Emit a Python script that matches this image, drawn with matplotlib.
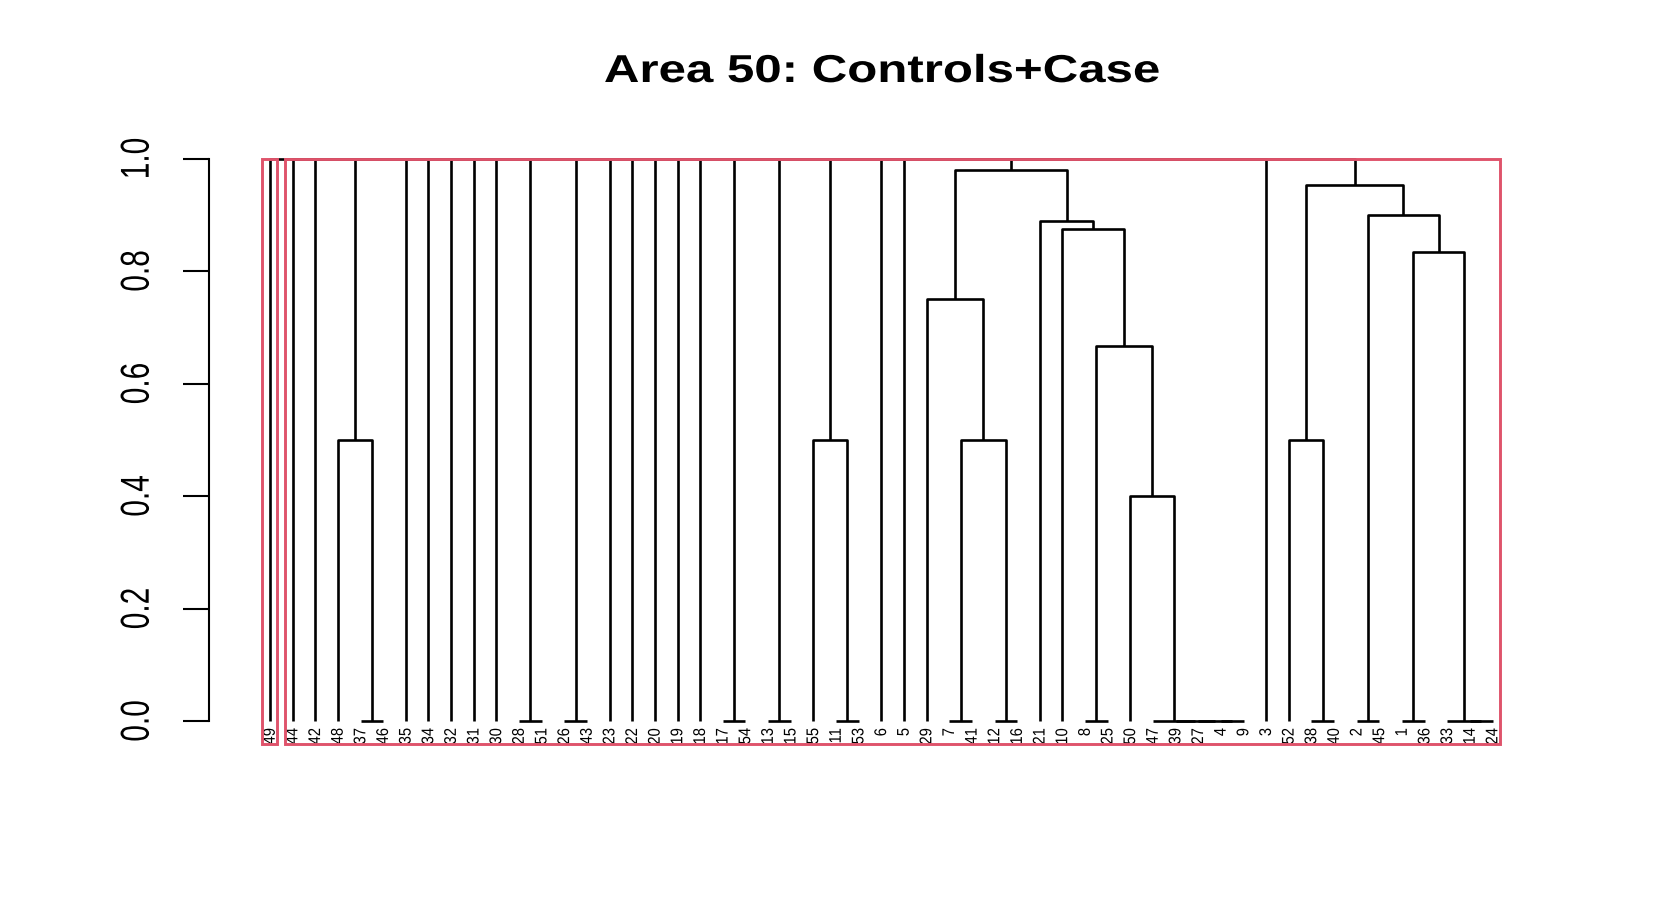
import matplotlib
matplotlib.use("Agg")
import matplotlib.pyplot as plt
from matplotlib.patches import Rectangle
from matplotlib.patheffects import AbstractPathEffect
from matplotlib.transforms import Affine2D


TITLE = "Area 50: Controls+Case"

# leaf order as drawn, left to right
LEAF_ORDER = [49, 44, 42, 48, 37, 46, 35, 34, 32, 31, 30, 28, 51, 26, 43,
              23, 22, 20, 19, 18, 17, 54, 13, 15, 55, 11, 53, 6, 5, 29,
              7, 41, 12, 16, 21, 10, 8, 25, 50, 47, 39, 27, 4, 9, 3,
              52, 38, 40, 2, 45, 1, 36, 33, 14, 24]

# hclust style merge table: negative = observation, positive = earlier row
MERGE = [
    (-37, -46), (-28, -51), (-26, -43), (-17, -54), (-13, -15),
    (-11, -53), (-7, -41), (-12, -16), (-8, -25), (-4, -9),
    (-27, 10), (-39, 11), (-47, 12), (-38, -40), (-2, -45),
    (-1, -36), (-14, -24), (-33, 17),
    (-48, 1), (-55, 6), (7, 8), (-52, 14), (-50, 13), (9, 23),
    (-29, 21), (16, 18), (-10, 24), (-21, 27), (15, 26), (22, 29),
    (25, 28),
    (-44, -42), (32, 19), (33, -35), (34, -34), (35, -32), (36, -31),
    (37, -30), (38, 2), (39, 3), (40, -23), (41, -22), (42, -20),
    (43, -19), (44, -18), (45, 4), (46, 5), (47, 20), (48, -6),
    (49, -5), (50, 31), (51, -3), (52, 30), (-49, 53),
]
HEIGHT = [
    0.0, 0.0, 0.0, 0.0, 0.0,
    0.0, 0.0, 0.0, 0.0, 0.0,
    0.0, 0.0, 0.0, 0.0, 0.0,
    0.0, 0.0, 0.0,
    0.5, 0.5, 0.5, 0.5, 0.4, 0.667,
    0.75, 0.833, 0.875, 0.889, 0.9, 0.953,
    0.98,
    1.0, 1.0, 1.0, 1.0, 1.0, 1.0,
    1.0, 1.0, 1.0, 1.0, 1.0, 1.0,
    1.0, 1.0, 1.0, 1.0, 1.0, 1.0,
    1.0, 1.0, 1.0, 1.0, 1.0,
]

# rect.hclust(k = 2) cluster sizes in leaf order
CLUSTER_SIZES = [1, 54]

Y_TICKS = [0.0, 0.2, 0.4, 0.6, 0.8, 1.0]
RED = "#DF536B"


class StretchX(AbstractPathEffect):
    """Widen glyphs horizontally around their own centre (R png looks wide)."""

    def __init__(self, factor):
        super().__init__()
        self.factor = factor

    def draw_path(self, renderer, gc, tpath, affine, rgbFace=None):
        box = tpath.get_extents(affine)
        cx = (box.x0 + box.x1) / 2
        wide = affine + Affine2D().translate(-cx, 0).scale(self.factor, 1).translate(cx, 0)
        renderer.draw_path(gc, tpath, wide, rgbFace)


def node_pos(ref, xs, hs):
    if ref < 0:
        return LEAF_ORDER.index(-ref) + 1, 0.0
    return xs[ref - 1], hs[ref - 1]


def main():
    plt.rcParams["font.family"] = "Liberation Sans"
    W, H = 1661, 913
    fig = plt.figure(figsize=(W / 100, H / 100), dpi=100)

    step = (1492.6 - 270.0) / 54
    left_px, right_px = 209.0, 1554.0
    ax = fig.add_axes([left_px / W, (H - 743.5) / H,
                       (right_px - left_px) / W, (743.5 - 136.0) / H])
    ax.set_xlim(1 - (270.0 - left_px) / step, 1 + (right_px - 270.0) / step)
    ax.set_ylim(-0.04, 1.04)

    xs, hs = [], []
    for (a, b), h in zip(MERGE, HEIGHT):
        x1, h1 = node_pos(a, xs, hs)
        x2, h2 = node_pos(b, xs, hs)
        ax.plot([x1, x1, x2, x2], [h1, h, h, h2], color="black", lw=1.9,
                solid_capstyle="butt", clip_on=False, zorder=2)
        xs.append((x1 + x2) / 2)
        hs.append(h)

    for i, lab in enumerate(LEAF_ORDER):
        t = ax.text(i + 1, -0.0125, str(lab), rotation=90, ha="center",
                    va="top", fontsize=10.6, clip_on=False)
        t.set_path_effects([StretchX(1.15)])

    # cluster boxes, placed as rect.hclust does
    top = (HEIGHT[-1] + HEIGHT[-2]) / 2
    start = 0
    for size in CLUSTER_SIZES:
        x0 = start + 0.66
        x1 = start + size + 0.33
        ax.add_patch(Rectangle((x0, -0.04), x1 - x0, top + 0.04, fill=False,
                               edgecolor=RED, lw=2.1, clip_on=False, zorder=3))
        start += size

    for s in ["top", "right", "bottom"]:
        ax.spines[s].set_visible(False)
    ax.spines["left"].set_bounds(0, 1)
    ax.spines["left"].set_linewidth(1.5)
    ax.set_xticks([])
    ax.set_yticks(Y_TICKS)
    ax.set_yticklabels([f"{v:.1f}" for v in Y_TICKS], rotation=90, va="center")
    ax.tick_params(axis="y", length=18.7, width=1.5, pad=23, labelsize=21.5)
    for lbl in ax.get_yticklabels():
        lbl.set_path_effects([StretchX(1.35)])

    title = fig.text(882 / W, 1 - 82 / H, TITLE, ha="center", va="baseline",
                     fontsize=28, fontweight="bold")
    title.set_path_effects([StretchX(1.265)])

    fig.savefig("out.png", dpi=100, facecolor="white")
    plt.close(fig)


if __name__ == "__main__":
    main()
